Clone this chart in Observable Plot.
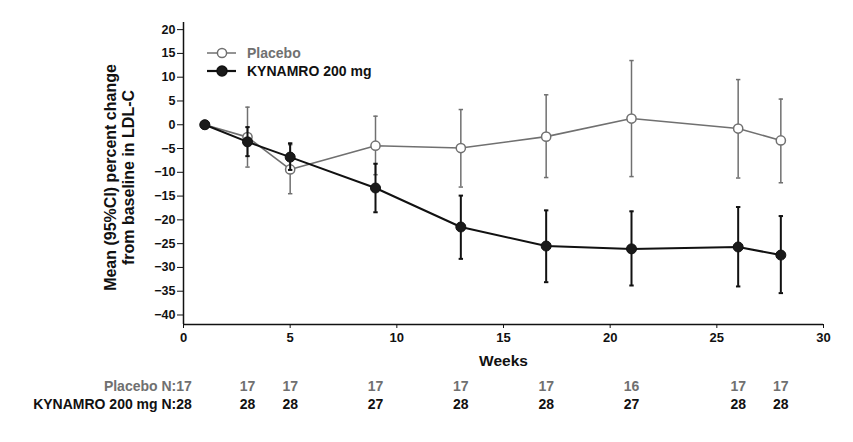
<!DOCTYPE html>
<html>
<head>
<meta charset="utf-8">
<script src="https://cdn.jsdelivr.net/npm/d3@7"></script>
<script src="https://cdn.jsdelivr.net/npm/@observablehq/plot@0.6"></script>
<style>
  body { margin: 0; background: #fff; }
  #chart { position: relative; width: 853px; height: 442px; }
  svg { font-family: "Liberation Sans", Arial, sans-serif; }
</style>
</head>
<body>
<div id="chart"></div>
<script>
// ---- data ----
const weeks = [1, 3, 5, 9, 13, 17, 21, 26, 28];
const placeboMean = [0, -2.6, -9.4, -4.4, -4.9, -2.5, 1.3, -0.8, -3.3];
const placeboLo   = [0, -8.9, -14.5, -10.5, -13.1, -11.1, -10.9, -11.2, -12.2];
const placeboHi   = [0, 3.7, -4.2, 1.8, 3.2, 6.3, 13.5, 9.5, 5.4];
const kynMean = [0, -3.6, -6.8, -13.3, -21.5, -25.5, -26.1, -25.7, -27.4];
const kynLo   = [0, -6.6, -9.5, -18.4, -28.2, -33.1, -33.8, -34.0, -35.4];
const kynHi   = [0, -0.5, -3.9, -8.2, -14.9, -18.0, -18.2, -17.3, -19.2];
const placeboN = [17, 17, 17, 17, 17, 17, 16, 17, 17];
const kynN     = [28, 28, 28, 27, 28, 28, 27, 28, 28];
const seriesNames = ["Placebo", "KYNAMRO 200 mg"];
const xTicks = [0, 5, 10, 15, 20, 25, 30];
const yTicks = [-40, -35, -30, -25, -20, -15, -10, -5, 0, 5, 10, 15, 20];
const yLabel = "Mean (95%CI) percent change\nfrom baseline in LDL-C";
const xLabel = "Weeks";

const grayC = "#707070";
const blackC = "#111111";

const placebo = weeks.map((w, i) => ({week: w, mean: placeboMean[i], lo: placeboLo[i], hi: placeboHi[i], n: placeboN[i]}));
const kyn = weeks.map((w, i) => ({week: w, mean: kynMean[i], lo: kynLo[i], hi: kynHi[i], n: kynN[i]}));

const cap = {draw(ctx, size) { const r = Math.sqrt(size / Math.PI); ctx.moveTo(-r, 0); ctx.lineTo(r, 0); }};

function errMarks(data, color, sw) {
  const d = data.slice(1);
  return [
    Plot.ruleX(d, {x: "week", y1: "lo", y2: "hi", stroke: color, strokeWidth: sw}),
    Plot.dot(d, {x: "week", y: "lo", symbol: cap, r: 2.2, stroke: color, strokeWidth: sw, fill: "none"}),
    Plot.dot(d, {x: "week", y: "hi", symbol: cap, r: 2.2, stroke: color, strokeWidth: sw, fill: "none"})
  ];
}

const tableFont = 14;

const plot = Plot.plot({
  width: 853,
  height: 442,
  marginLeft: 183,
  marginRight: 30,
  marginTop: 22,
  marginBottom: 118,
  x: {domain: [0, 30]},
  y: {domain: [-42, 21.5]},
  marks: [
    Plot.ruleX([0], {stroke: blackC, strokeWidth: 1.5}),
    Plot.ruleY([-42], {stroke: blackC, strokeWidth: 1.5}),
    Plot.axisY({ticks: yTicks, tickSize: 6, tickPadding: 2, label: null, fontSize: 12.5, fontWeight: "bold", stroke: blackC, color: blackC}),
    Plot.axisX({ticks: xTicks, tickSize: 4, tickPadding: 4, label: null, fontSize: 13, fontWeight: "bold", stroke: blackC, color: blackC}),
    Plot.text([yLabel], {frameAnchor: "left", dx: -64, dy: 4, rotate: -90, textAnchor: "middle", lineAnchor: "middle", fontSize: 16, fontWeight: "bold", lineHeight: 1.1, fill: blackC}),
    Plot.text([xLabel], {frameAnchor: "bottom", dy: 41, fontSize: 15.5, fontWeight: "bold", fill: blackC}),
    // N table
    Plot.text(placebo.slice(1), {x: "week", frameAnchor: "bottom", dy: 66, text: "n", fontSize: tableFont, fontWeight: "bold", fill: grayC}),
    Plot.text(kyn.slice(1), {x: "week", frameAnchor: "bottom", dy: 84, text: "n", fontSize: tableFont, fontWeight: "bold", fill: blackC}),
    Plot.text(placebo.slice(0, 1), {x: "week", frameAnchor: "bottom", dy: 66, dx: -13, textAnchor: "end", text: d => `${seriesNames[0]} N:${d.n}`, fontSize: tableFont, fontWeight: "bold", fill: grayC}),
    Plot.text(kyn.slice(0, 1), {x: "week", frameAnchor: "bottom", dy: 84, dx: -13, textAnchor: "end", text: d => `${seriesNames[1]} N:${d.n}`, fontSize: tableFont, fontWeight: "bold", fill: blackC}),
    // placebo
    ...errMarks(placebo, grayC, 1.5),
    Plot.line(placebo, {x: "week", y: "mean", stroke: grayC, strokeWidth: 1.6}),
    Plot.dot(placebo, {x: "week", y: "mean", r: 4.6, fill: "white", stroke: grayC, strokeWidth: 1.5}),
    // kynamro
    ...errMarks(kyn, blackC, 2),
    Plot.line(kyn, {x: "week", y: "mean", stroke: blackC, strokeWidth: 2}),
    Plot.dot(kyn, {x: "week", y: "mean", r: 5, fill: "#1a1a1a", stroke: blackC, strokeWidth: 1})
  ]
});

document.getElementById("chart").appendChild(plot);

// legend inside plot area
const svg = d3.select(plot);
const lg = svg.append("g")
  .attr("font-family", "Liberation Sans, Arial, sans-serif")
  .attr("font-weight", "bold")
  .attr("font-size", 14)
  .attr("text-anchor", "start");
const items = [
  {name: seriesNames[0], color: grayC, fill: "white", sw: 1.5, y: 53},
  {name: seriesNames[1], color: blackC, fill: "#1a1a1a", sw: 2.2, y: 71}
];
for (const it of items) {
  lg.append("line").attr("x1", 207).attr("x2", 236).attr("y1", it.y).attr("y2", it.y).attr("stroke", it.color).attr("stroke-width", it.sw);
  lg.append("circle").attr("cx", 222).attr("cy", it.y).attr("r", it.fill === "white" ? 4.6 : 5).attr("fill", it.fill).attr("stroke", it.color).attr("stroke-width", 1.5);
  lg.append("text").attr("x", 247).attr("y", it.y).attr("dy", "0.35em").attr("text-anchor", "start").attr("fill", it.color).text(it.name);
}
</script>
</body>
</html>
